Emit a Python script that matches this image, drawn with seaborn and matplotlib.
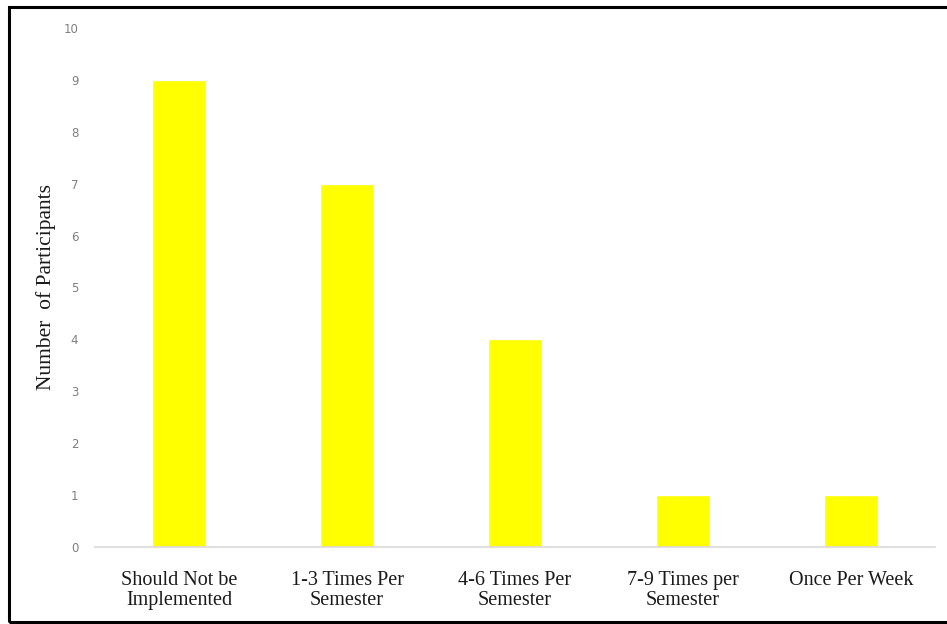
import matplotlib
matplotlib.use("Agg")
import matplotlib.pyplot as plt
from matplotlib.patches import Rectangle
import seaborn as sns
import pandas as pd

categories = [
    "Should Not be\nImplemented",
    "1-3 Times Per\nSemester",
    "4-6 Times Per\nSemester",
    "7-9 Times per\nSemester",
    "Once Per Week",
]
participants = [9, 7, 4, 1, 1]
y_ticks = list(range(0, 11))

df = pd.DataFrame({"Frequency": categories, "Participants": participants})

sns.set_theme(style="white")

W, H, DPI = 947, 624, 100
fig = plt.figure(figsize=(W / DPI, H / DPI), dpi=DPI)
ax = fig.add_axes([95 / W, 1 - 547 / H, (935 - 95) / W, (547 - 28) / H])

sns.barplot(data=df, x="Frequency", y="Participants", color="#FFFF00",
            saturation=1, width=0.316, ax=ax)

ax.set_ylim(0, 10)
ax.set_xlim(-0.5, len(categories) - 0.5)
ax.set_yticks(y_ticks)
ax.set_yticklabels([str(t) for t in y_ticks], fontsize=8.5, color="#7f7f7f",
                   family="DejaVu Sans")
ax.tick_params(axis="y", length=0, pad=12)
ax.tick_params(axis="x", length=0, pad=17)
for lbl in ax.get_xticklabels():
    lbl.set_family("Liberation Serif")
    lbl.set_fontsize(14.5)
    lbl.set_color("#1a1a1a")
    lbl.set_linespacing(1.1)

ax.set_xlabel("")
ax.set_ylabel("Number  of Participants", family="Liberation Serif",
              fontsize=15.5, color="#1a1a1a")
ax.yaxis.set_label_coords((56 - 95) / 840, 0.5)

for side in ["top", "right", "left"]:
    ax.spines[side].set_visible(False)
ax.spines["bottom"].set_color("#d9d9d9")
ax.spines["bottom"].set_linewidth(1.2)

# outer frame around the chart
frame = Rectangle((8.5 / W, 2.5 / H), 1.05, (621 - 6) / H,
                  transform=fig.transFigure, fill=False,
                  edgecolor="black", linewidth=2.2, clip_on=False)
fig.patches.append(frame)

fig.savefig("out.png", dpi=DPI, facecolor="white")
